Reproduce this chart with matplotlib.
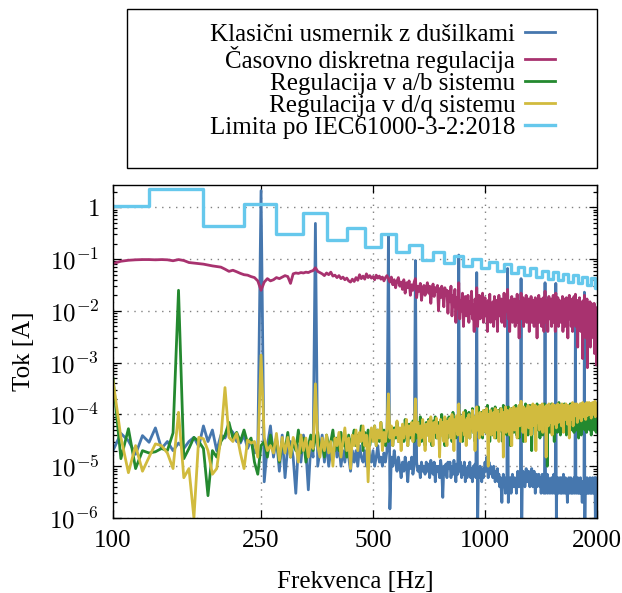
import numpy as np
import matplotlib.pyplot as plt
from matplotlib.patches import Rectangle
from matplotlib.ticker import FixedLocator, FixedFormatter, LogLocator, NullFormatter

plt.rcParams['font.family'] = ['Liberation Serif', 'DejaVu Serif']
plt.rcParams['mathtext.fontset'] = 'cm'

#%% podatki (5 Hz korak, 100 ... 2000 Hz)
frekvenca = np.arange(100, 2001, 5)

tok_klasicni = [
    2.0e-5, 4.3e-5, 3.1e-5, 1.7e-5, 3.9e-5, 2.9e-5, 5.5e-5, 2.2e-5, 3.0e-5, 2.0e-5,
    2.8e-5, 2.2e-5, 3.0e-5, 3.6e-5, 2.4e-5, 6.0e-5, 3.0e-5, 5.0e-5, 2.0e-5, 4.0e-5,
    3.5e-5, 5.5e-5, 4.5e-5, 3.0e-5, 2.8e-5, 4.0e-5, 2.2e-5, 3.2e-5, 1.8e-5, 2.0e-5,
    2.1, 5.0e-6, 2.5e-5, 6.0e-5, 1.5e-5, 3.5e-5, 8.0e-6, 4.0e-5, 6.0e-6, 2.5e-5,
    3.0e-5, 1.5e-5, 3.0e-6, 2.5e-5, 1.2e-5, 4.0e-5, 2.0e-5, 3.5e-6, 2.5e-5, 1.5e-5,
    0.49, 1.0e-5, 2.0e-5, 4.0e-5, 1.2e-5, 3.0e-5, 1.0e-5, 2.0e-5, 1.5e-5, 3.5e-5,
    1.5e-5, 2.5e-5, 1.0e-5, 2.0e-5, 1.2e-5, 3.0e-5, 1.5e-5, 8.0e-6, 2.0e-5, 1.2e-5,
    2.0e-5, 1.0e-5, 2.5e-5, 1.5e-5, 1.2e-5, 2.0e-5, 1.0e-5, 3.0e-5, 1.5e-5, 1.2e-5,
    2.0e-5, 1.0e-5, 1.5e-5, 2.5e-5, 1.2e-5, 1.5e-5, 1.0e-5, 1.8e-5, 1.2e-5, 2.0e-5,
    0.28, 1.5e-6, 1.5e-5, 1.0e-5, 2.0e-5, 1.2e-5, 8.0e-6, 1.5e-5, 1.0e-5, 6.0e-6,
    1.2e-5, 8.0e-6, 1.5e-5, 1.0e-5, 5.0e-6, 1.2e-5, 9.0e-6, 1.5e-5, 7.0e-6, 1.0e-5,
    0.094, 1.2e-5, 8.0e-6, 1.0e-5, 6.0e-6, 1.2e-5, 8.0e-6, 1.0e-5, 7.0e-6, 1.2e-5,
    8.0e-6, 1.1e-5, 6.0e-6, 1.3e-5, 9.0e-6, 7.0e-6, 1.2e-5, 5.0e-6, 1.0e-5, 8.0e-6,
    1.0e-5, 6.0e-6, 1.3e-5, 8.0e-6, 2.5e-6, 1.0e-5, 7.0e-6, 1.1e-5, 6.0e-6, 1.2e-5,
    9.0e-6, 1.2e-5, 6.0e-6, 1.0e-5, 7.0e-6, 1.3e-5, 8.0e-6, 5.0e-6, 1.1e-5, 7.0e-6,
    0.12, 8.0e-6, 1.2e-5, 6.0e-6, 1.0e-5, 7.0e-6, 1.2e-5, 5.0e-6, 9.0e-6, 6.0e-6,
    1.0e-5, 7.0e-6, 1.2e-5, 6.0e-6, 9.0e-6, 5.0e-6, 1.0e-5, 7.0e-6, 1.1e-5, 6.0e-6,
    0.055, 5.0e-7, 9.0e-6, 6.0e-6, 1.0e-5, 7.0e-6, 5.0e-6, 9.0e-6, 6.0e-6, 8.0e-6,
    1.2e-5, 8.0e-6, 1.5e-5, 1.0e-5, 6.0e-6, 1.2e-5, 8.0e-6, 1.0e-5, 7.0e-6, 9.0e-6,
    6.0e-6, 1.0e-5, 7.0e-6, 5.0e-6, 8.0e-6, 6.0e-6, 9.0e-6, 5.0e-6, 7.0e-6, 4.0e-6,
    6.0e-6, 4.0e-6, 2.0e-6, 5.0e-6, 7.0e-6, 4.0e-6, 6.0e-6, 3.0e-6, 5.0e-6, 4.0e-6,
    0.066, 2.0e-6, 5.0e-6, 4.0e-6, 6.0e-6, 3.0e-6, 5.0e-6, 7.0e-6, 4.0e-6, 5.0e-6,
    6.0e-6, 4.0e-6, 5.0e-6, 3.0e-6, 6.0e-6, 8.0e-6, 5.0e-6, 4.0e-6, 6.0e-6, 5.0e-6,
    0.042, 5.0e-7, 6.0e-6, 8.0e-6, 5.0e-6, 7.0e-6, 4.0e-6, 6.0e-6, 9.0e-6, 5.0e-6,
    7.0e-6, 5.0e-6, 8.0e-6, 6.0e-6, 4.0e-6, 7.0e-6, 5.0e-6, 9.0e-6, 6.0e-6, 4.0e-6,
    6.0e-6, 8.0e-6, 5.0e-6, 3.0e-6, 6.0e-6, 7.0e-6, 4.0e-6, 6.0e-6, 5.0e-6, 7.0e-6,
    5.0e-6, 4.0e-6, 6.0e-6, 3.0e-6, 5.0e-6, 7.0e-6, 4.0e-6, 6.0e-6, 3.0e-6, 5.0e-6,
    0.035, 3.0e-6, 5.0e-6, 4.0e-6, 7.0e-6, 3.0e-6, 6.0e-6, 4.0e-6, 5.0e-6, 3.0e-6,
    5.0e-6, 4.0e-6, 6.0e-6, 3.0e-6, 5.0e-6, 4.0e-6, 7.0e-6, 3.0e-6, 5.0e-6, 4.0e-6,
    0.034, 7.0e-7, 5.0e-6, 4.0e-6, 6.0e-6, 3.0e-6, 5.0e-6, 4.0e-6, 6.0e-6, 3.0e-6,
    4.0e-6, 6.0e-6, 3.0e-6, 5.0e-6, 4.0e-6, 7.0e-6, 3.0e-6, 5.0e-6, 4.0e-6, 6.0e-6,
    3.0e-6, 5.0e-6, 4.0e-6, 2.0e-6, 5.0e-6, 4.0e-6, 6.0e-6, 3.0e-6, 5.0e-6, 4.0e-6,
    6.0e-6, 3.0e-6, 5.0e-6, 4.0e-6, 3.0e-6, 5.0e-6, 4.0e-6, 6.0e-6, 3.0e-6, 5.0e-6,
    0.02, 4.0e-6, 3.0e-6, 5.0e-6, 4.0e-6, 6.0e-6, 3.0e-6, 4.0e-6, 5.0e-6, 3.0e-6,
    4.0e-6, 6.0e-6, 3.0e-6, 5.0e-6, 4.0e-6, 2.0e-6, 5.0e-6, 4.0e-6, 3.0e-6, 5.0e-6,
    0.023, 5.0e-7, 4.0e-6, 3.0e-6, 5.0e-6, 4.0e-6, 6.0e-6, 3.0e-6, 4.0e-6, 5.0e-6,
    3.0e-6, 5.0e-6, 4.0e-6, 6.0e-6, 3.0e-6, 4.0e-6, 5.0e-6, 3.0e-6, 4.0e-6, 6.0e-6,
    4.0e-6, 3.0e-6, 5.0e-6, 4.0e-6, 6.0e-6, 5.0e-6, 8.0e-7, 6.0e-6, 5.0e-6, 4.0e-6,
    5.0e-6]

tok_diskretna = [
    0.082, 0.091, 0.095, 0.097, 0.098, 0.098, 0.097, 0.098, 0.097, 0.093,
    0.098, 0.094, 0.086, 0.084, 0.082, 0.080, 0.077, 0.074, 0.072, 0.070,
    0.064, 0.058, 0.061, 0.057, 0.053, 0.050, 0.049, 0.046, 0.044, 0.038,
    0.025, 0.036, 0.042, 0.038, 0.040, 0.044, 0.042, 0.045, 0.048, 0.046,
    0.034, 0.052, 0.054, 0.053, 0.055, 0.054, 0.056, 0.055, 0.058, 0.060,
    0.068, 0.058, 0.055, 0.052, 0.048, 0.054, 0.050, 0.056, 0.047, 0.049,
    0.044, 0.048, 0.042, 0.045, 0.040, 0.043, 0.038, 0.036, 0.041, 0.037,
    0.044, 0.039, 0.050, 0.042, 0.047, 0.041, 0.052, 0.044, 0.048, 0.043,
    0.046, 0.040, 0.049, 0.043, 0.047, 0.041, 0.045, 0.038, 0.044, 0.048,
    0.042, 0.036, 0.045, 0.032, 0.040, 0.028, 0.038, 0.044, 0.030, 0.036,
    0.026, 0.040, 0.022, 0.035, 0.028, 0.038, 0.020, 0.032, 0.025, 0.036,
    0.042, 0.018, 0.030, 0.024, 0.034, 0.016, 0.026, 0.031, 0.020, 0.028,
    0.035, 0.022, 0.030, 0.014, 0.026, 0.033, 0.019, 0.028, 0.024, 0.031,
    0.010, 0.027, 0.018, 0.030, 0.022, 0.012, 0.028, 0.020, 0.025, 0.009,
    0.024, 0.015, 0.030, 0.008, 0.020, 0.012, 0.026, 0.006, 0.018, 0.011,
    0.035, 0.007, 0.016, 0.010, 0.022, 0.005, 0.014, 0.019, 0.008, 0.012,
    0.020, 0.006, 0.015, 0.009, 0.024, 0.007, 0.013, 0.004, 0.017, 0.010,
    0.028, 0.005, 0.012, 0.020, 0.007, 0.015, 0.009, 0.022, 0.006, 0.011,
    0.018, 0.008, 0.014, 0.004, 0.016, 0.010, 0.021, 0.006, 0.013, 0.009,
    0.015, 0.005, 0.019, 0.010, 0.007, 0.016, 0.004, 0.012, 0.020, 0.008,
    0.011, 0.017, 0.006, 0.013, 0.009, 0.022, 0.005, 0.014, 0.010, 0.018,
    0.026, 0.007, 0.012, 0.004, 0.016, 0.009, 0.019, 0.006, 0.013, 0.010,
    0.017, 0.005, 0.014, 0.008, 0.021, 0.006, 0.012, 0.003, 0.015, 0.009,
    0.022, 0.007, 0.013, 0.018, 0.005, 0.011, 0.016, 0.008, 0.020, 0.006,
    0.012, 0.009, 0.017, 0.004, 0.014, 0.010, 0.019, 0.006, 0.013, 0.008,
    0.016, 0.005, 0.011, 0.018, 0.007, 0.013, 0.003, 0.015, 0.009, 0.020,
    0.006, 0.012, 0.008, 0.017, 0.005, 0.014, 0.010, 0.018, 0.004, 0.011,
    0.024, 0.006, 0.013, 0.009, 0.016, 0.004, 0.012, 0.019, 0.007, 0.014,
    0.010, 0.017, 0.005, 0.013, 0.008, 0.020, 0.006, 0.011, 0.015, 0.004,
    0.022, 0.007, 0.014, 0.009, 0.018, 0.005, 0.012, 0.016, 0.008, 0.013,
    0.006, 0.015, 0.010, 0.019, 0.004, 0.012, 0.008, 0.017, 0.005, 0.014,
    0.011, 0.018, 0.006, 0.013, 0.003, 0.016, 0.009, 0.020, 0.007, 0.012,
    0.015, 0.005, 0.010, 0.017, 0.004, 0.013, 0.008, 0.019, 0.006, 0.011,
    0.021, 0.005, 0.012, 0.008, 0.016, 0.002, 0.011, 0.014, 0.006, 0.018,
    0.009, 0.013, 0.004, 0.015, 0.007, 0.012, 0.0012, 0.010, 0.016, 0.005,
    0.020, 0.006, 0.011, 0.003, 0.014, 0.008, 0.017, 0.0008, 0.009, 0.013,
    0.005, 0.012, 0.008, 0.015, 0.002, 0.010, 0.014, 0.004, 0.011, 0.007,
    0.013, 0.003, 0.009, 0.014, 0.0015, 0.008, 0.012, 0.004, 0.010, 0.0009,
    0.006]

tok_ab = [
    5.0e-4, 1.4e-5, 5.3e-5, 9.0e-6, 2.0e-5, 1.8e-5, 1.9e-5, 2.2e-5, 2.0e-5, 4.4e-5,
    0.025, 1.4e-5, 2.2e-5, 3.6e-5, 3.0e-5, 2.2e-5, 2.7e-6, 2.0e-5, 1.5e-5, 3.0e-5,
    4.0e-5, 7.0e-5, 3.5e-5, 4.5e-5, 3.0e-5, 5.0e-5, 2.8e-5, 3.5e-5, 1.2e-5, 7.0e-6,
    2.5e-5, 3.0e-5, 1.5e-5, 4.0e-5, 2.0e-5, 3.5e-5, 1.2e-5, 3.0e-5, 2.0e-5, 4.5e-5,
    1.5e-5, 3.0e-5, 2.0e-5, 5.0e-5, 1.8e-5, 3.5e-5, 1.2e-5, 2.5e-5, 4.0e-5, 2.0e-5,
    3.5e-5, 4.5e-5, 2.0e-5, 3.0e-5, 1.5e-5, 4.0e-5, 2.5e-5, 3.0e-5, 5.0e-5, 2.0e-5,
    3.5e-5, 2.0e-5, 4.5e-5, 2.5e-5, 3.0e-5, 1.5e-5, 4.0e-5, 2.5e-5, 3.5e-5, 5.0e-5,
    2.5e-5, 4.0e-5, 3.0e-5, 6.0e-5, 2.0e-5, 4.5e-5, 3.0e-5, 5.0e-5, 2.5e-5, 4.0e-5,
    3.5e-5, 6.0e-5, 2.5e-5, 5.0e-5, 3.0e-5, 7.0e-5, 3.5e-5, 5.0e-5, 2.5e-5, 4.5e-5,
    3.0e-5, 6.0e-5, 4.0e-5, 2.5e-5, 5.5e-5, 3.5e-5, 7.0e-5, 3.0e-5, 5.0e-5, 4.0e-5,
    6.0e-5, 3.0e-5, 8.0e-5, 4.0e-5, 2.5e-5, 6.5e-5, 3.5e-5, 5.0e-5, 7.5e-5, 3.0e-5,
    5.0e-5, 3.5e-5, 7.0e-5, 4.0e-5, 9.0e-5, 3.0e-5, 6.0e-5, 4.5e-5, 2.5e-5, 7.0e-5,
    4.0e-5, 8.0e-5, 3.5e-5, 6.0e-5, 2.5e-5, 7.5e-5, 4.5e-5, 9.0e-5, 3.5e-5, 5.5e-5,
    7.0e-5, 3.0e-5, 6.0e-5, 1.0e-4, 4.0e-5, 7.0e-5, 2.5e-5, 8.0e-5, 5.0e-5, 3.5e-5,
    9.0e-5, 4.5e-5, 7.0e-5, 3.0e-5, 1.1e-4, 5.0e-5, 6.5e-5, 3.5e-5, 8.5e-5, 4.5e-5,
    6.0e-5, 1.0e-4, 4.0e-5, 7.5e-5, 3.0e-5, 9.0e-5, 5.0e-5, 1.2e-4, 4.0e-5, 7.0e-5,
    5.0e-5, 1.1e-4, 3.5e-5, 8.0e-5, 6.0e-5, 1.3e-4, 4.5e-5, 9.0e-5, 3.0e-5, 7.0e-5,
    1.0e-4, 5.0e-5, 1.4e-4, 4.0e-5, 8.0e-5, 6.0e-5, 1.1e-4, 3.5e-5, 9.0e-5, 5.5e-5,
    1.2e-4, 4.5e-5, 8.0e-5, 1.5e-4, 5.0e-5, 1.0e-4, 3.0e-5, 9.0e-5, 6.0e-5, 1.3e-4,
    4.0e-5, 1.1e-4, 7.0e-5, 1.4e-4, 3.5e-5, 9.0e-5, 5.5e-5, 1.2e-4, 4.5e-5, 8.5e-5,
    1.3e-4, 6.0e-5, 1.0e-4, 3.0e-5, 1.5e-4, 5.0e-5, 9.0e-5, 7.0e-5, 1.2e-4, 4.0e-5,
    9.0e-5, 1.4e-4, 5.0e-5, 1.1e-4, 2.5e-5, 8.0e-5, 1.3e-4, 6.0e-5, 1.0e-4, 4.5e-5,
    1.2e-4, 7.0e-5, 1.5e-4, 4.0e-5, 9.5e-5, 6.0e-5, 1.3e-4, 3.5e-5, 1.1e-4, 8.0e-5,
    5.0e-5, 1.4e-4, 7.0e-5, 1.0e-4, 3.0e-5, 1.2e-4, 8.0e-5, 1.6e-4, 5.0e-5, 9.0e-5,
    1.1e-4, 4.0e-5, 1.3e-4, 7.0e-5, 1.5e-4, 5.5e-5, 9.0e-5, 2.0e-5, 1.2e-4, 8.0e-5,
    1.4e-4, 6.0e-5, 1.0e-4, 4.0e-5, 1.3e-4, 8.0e-5, 1.6e-4, 5.0e-5, 1.1e-4, 7.0e-5,
    1.2e-4, 3.5e-5, 9.0e-5, 1.5e-4, 6.0e-5, 1.1e-4, 4.0e-5, 1.3e-4, 8.0e-5, 1.6e-4,
    5.0e-5, 1.0e-4, 7.0e-5, 1.4e-4, 1.0e-5, 9.0e-5, 1.2e-4, 6.0e-5, 1.5e-4, 4.5e-5,
    1.1e-4, 7.5e-5, 1.6e-4, 5.0e-5, 1.2e-4, 8.0e-5, 1.4e-4, 3.0e-5, 1.0e-4, 6.5e-5,
    1.5e-4, 8.0e-5, 1.1e-4, 4.5e-5, 1.3e-4, 9.0e-5, 1.7e-4, 6.0e-5, 1.2e-4, 4.0e-5,
    1.0e-4, 1.5e-4, 7.0e-5, 1.2e-4, 5.0e-5, 1.4e-4, 9.0e-5, 1.6e-4, 6.0e-5, 1.1e-4,
    1.3e-4, 4.0e-5, 1.0e-4, 1.5e-4, 7.0e-5, 1.2e-4, 5.5e-5, 1.4e-4, 8.0e-5, 1.6e-4,
    6.0e-5, 1.1e-4, 1.4e-4, 5.0e-5, 1.2e-4, 8.5e-5, 1.6e-4, 4.5e-5, 1.0e-4, 1.3e-4,
    7.0e-5, 1.5e-4, 5.0e-5, 1.1e-4, 1.4e-4, 6.5e-5, 1.2e-4, 3.5e-5, 1.5e-4, 9.0e-5,
    1.3e-4, 6.0e-5, 1.6e-4, 4.0e-5, 1.1e-4, 8.0e-5, 1.4e-4, 5.5e-5, 1.2e-4, 1.0e-4,
    1.5e-4, 5.0e-5, 1.2e-4, 8.5e-5, 1.6e-4, 4.5e-5, 1.3e-4, 7.0e-5, 1.4e-4, 6.0e-5,
    1.1e-4, 1.6e-4, 5.0e-5, 1.3e-4, 8.0e-5, 1.5e-4, 4.0e-5, 1.2e-4, 9.0e-5, 1.4e-4,
    6.0e-5, 1.3e-4, 1.0e-4, 1.6e-4, 5.0e-5, 1.2e-4, 8.0e-5, 1.5e-4, 4.5e-5, 1.1e-4,
    1.4e-4]

tok_dq = [
    4.5e-4, 3.6e-5, 7.5e-6, 2.5e-5, 8.0e-6, 1.5e-5, 2.7e-5, 2.5e-5, 1.8e-5, 9.0e-6,
    1.1e-4, 6.0e-6, 9.0e-6, 1.0e-6, 3.6e-5, 3.4e-5, 2.0e-5, 7.0e-6, 9.0e-6, 3.6e-5,
    3.3e-4, 3.6e-5, 3.0e-5, 4.3e-5, 1.8e-5, 9.0e-6, 3.2e-5, 2.8e-5, 3.0e-5, 1.5e-5,
    1.4e-3, 3.6e-5, 2.0e-5, 2.5e-5, 1.8e-5, 4.3e-5, 1.3e-5, 3.6e-5, 1.8e-5, 3.6e-5,
    1.5e-5, 3.6e-5, 2.5e-5, 1.2e-5, 4.0e-5, 2.0e-5, 3.5e-5, 1.5e-5, 3.0e-5, 2.2e-5,
    3.9e-4, 2.5e-5, 1.5e-5, 3.5e-5, 2.0e-5, 4.0e-5, 1.8e-5, 3.0e-5, 1.0e-5, 3.5e-5,
    2.5e-5, 4.5e-5, 1.5e-5, 3.0e-5, 5.5e-5, 2.0e-5, 3.5e-5, 9.0e-6, 4.0e-5, 2.5e-5,
    5.0e-5, 2.0e-5, 4.5e-5, 3.0e-5, 6.0e-5, 2.5e-5, 4.0e-5, 5.0e-6, 3.5e-5, 5.5e-5,
    3.0e-5, 6.0e-5, 2.5e-5, 5.0e-5, 3.5e-5, 7.0e-5, 2.0e-5, 4.5e-5, 3.0e-5, 5.5e-5,
    2.5e-4, 3.5e-5, 6.0e-5, 2.5e-5, 5.0e-5, 4.0e-5, 7.5e-5, 3.0e-5, 5.5e-5, 2.0e-5,
    6.5e-5, 3.5e-5, 5.0e-5, 8.0e-5, 2.5e-5, 6.0e-5, 4.0e-5, 7.0e-5, 3.0e-5, 5.5e-5,
    2.0e-4, 4.5e-5, 7.0e-5, 2.5e-5, 6.0e-5, 3.5e-5, 8.0e-5, 5.0e-5, 2.0e-5, 6.5e-5,
    4.0e-5, 7.5e-5, 3.0e-5, 9.0e-5, 5.0e-5, 2.5e-5, 7.0e-5, 4.5e-5, 8.5e-5, 3.5e-5,
    6.0e-5, 1.5e-5, 8.0e-5, 4.0e-5, 7.0e-5, 3.0e-5, 9.0e-5, 5.5e-5, 2.5e-5, 7.5e-5,
    4.5e-5, 8.5e-5, 3.5e-5, 1.0e-4, 6.0e-5, 2.0e-5, 8.0e-5, 5.0e-5, 9.5e-5, 4.0e-5,
    1.6e-4, 6.5e-5, 3.0e-5, 9.0e-5, 5.0e-5, 1.1e-4, 4.0e-5, 7.5e-5, 2.5e-5, 8.5e-5,
    6.0e-5, 1.0e-4, 3.5e-5, 8.0e-5, 5.5e-5, 1.2e-4, 4.5e-5, 9.0e-5, 2.0e-5, 7.0e-5,
    1.4e-4, 5.0e-5, 9.0e-5, 3.5e-5, 1.1e-4, 6.5e-5, 8.5e-5, 4.0e-5, 1.2e-4, 6.0e-5,
    9.0e-5, 4.5e-5, 1.3e-4, 7.0e-5, 1.0e-5, 1.0e-4, 5.5e-5, 1.2e-4, 4.0e-5, 9.5e-5,
    6.5e-5, 1.1e-4, 3.5e-5, 1.3e-4, 7.5e-5, 5.0e-5, 1.2e-4, 8.5e-5, 3.0e-5, 1.0e-4,
    7.0e-5, 1.3e-4, 5.0e-5, 9.5e-5, 1.5e-5, 1.1e-4, 6.5e-5, 1.4e-4, 4.5e-5, 9.0e-5,
    1.2e-4, 6.0e-5, 1.0e-4, 4.0e-5, 1.3e-4, 7.5e-5, 2.5e-5, 1.1e-4, 8.0e-5, 1.4e-4,
    5.0e-5, 1.0e-4, 7.0e-5, 1.3e-4, 3.5e-5, 1.2e-4, 8.5e-5, 1.5e-4, 6.0e-5, 1.0e-4,
    1.8e-4, 6.5e-5, 1.2e-4, 4.5e-5, 1.4e-4, 9.0e-5, 1.1e-4, 3.0e-5, 1.3e-4, 7.5e-5,
    1.0e-4, 1.5e-4, 5.5e-5, 1.2e-4, 8.0e-5, 1.4e-4, 4.0e-5, 1.1e-4, 9.0e-5, 1.6e-4,
    6.0e-5, 1.3e-4, 8.5e-5, 1.5e-4, 2.0e-5, 1.1e-4, 7.0e-5, 1.4e-4, 9.5e-5, 1.2e-4,
    5.0e-5, 1.5e-4, 9.0e-5, 1.2e-4, 6.5e-5, 1.6e-4, 4.5e-5, 1.3e-4, 1.0e-4, 1.4e-4,
    8.0e-5, 1.2e-4, 1.5e-5, 1.5e-4, 9.5e-5, 1.3e-4, 6.0e-5, 1.6e-4, 8.5e-5, 1.1e-4,
    1.4e-4, 7.0e-5, 1.2e-4, 4.0e-5, 1.6e-4, 9.0e-5, 1.3e-4, 6.5e-5, 1.5e-4, 1.0e-4,
    1.2e-4, 5.5e-5, 1.4e-4, 9.0e-5, 1.6e-4, 7.0e-5, 1.3e-4, 1.0e-4, 1.5e-4, 8.0e-5,
    1.3e-4, 6.0e-5, 1.6e-4, 9.5e-5, 1.2e-4, 4.5e-5, 1.5e-4, 1.1e-4, 1.4e-4, 8.0e-5,
    1.6e-4, 1.0e-4, 1.3e-4, 6.5e-5, 1.5e-4, 9.0e-5, 1.2e-4, 3.5e-5, 1.4e-4, 1.1e-4,
    1.5e-4, 8.0e-5, 1.3e-4, 1.0e-4, 1.7e-4, 6.0e-5, 1.4e-4, 9.0e-5, 1.2e-4, 1.6e-4,
    9.5e-5, 1.4e-4, 1.1e-4, 1.6e-4, 7.0e-5, 1.3e-4, 1.0e-4, 1.5e-4, 1.2e-4, 8.5e-5,
    1.6e-4, 1.1e-4, 1.4e-4, 7.5e-5, 1.5e-4, 1.2e-4, 1.7e-4, 9.0e-5, 1.3e-4, 1.0e-4,
    1.5e-4, 1.1e-4, 1.6e-4, 8.0e-5, 1.4e-4, 1.2e-4, 1.7e-4, 9.5e-5, 1.5e-4, 1.1e-4,
    1.4e-4, 1.7e-4, 1.0e-4, 1.5e-4, 1.2e-4, 1.6e-4, 8.5e-5, 1.4e-4, 1.1e-4, 1.7e-4,
    1.3e-4, 1.5e-4, 1.0e-4, 1.6e-4, 1.2e-4, 1.8e-4, 9.0e-5, 1.5e-4, 1.3e-4, 1.6e-4,
    1.4e-4]

# limita po harmonikih 2 ... 40 (odčitano z grafa)
frekvenca_limita = np.arange(100, 2001, 50)
tok_limita = [1.08, 2.30, 0.43, 1.14, 0.30, 0.77, 0.23, 0.40, 0.17, 0.31,
              0.14, 0.19, 0.098, 0.135, 0.085, 0.115, 0.075, 0.10, 0.066, 0.088,
              0.059, 0.080, 0.054, 0.072, 0.050, 0.066, 0.046, 0.060, 0.042, 0.056,
              0.039, 0.052, 0.036, 0.049, 0.034, 0.046, 0.031, 0.044, 0.028]

oznake = ['Klasični usmernik z dušilkami', 'Časovno diskretna regulacija',
          'Regulacija v a/b sistemu', 'Regulacija v d/q sistemu',
          'Limita po IEC61000-3-2:2018']
barve = ['#4677ae', '#a8326f', '#24892f', '#d1bb3e', '#66c8ec']

x_ticks = [100, 250, 500, 1000, 2000]
y_ticks = [1e-6, 1e-5, 1e-4, 1e-3, 1e-2, 1e-1, 1]
y_labels = ['$10^{-6}$', '$10^{-5}$', '$10^{-4}$', '$10^{-3}$',
            '$10^{-2}$', '$10^{-1}$', '$1$']

#%% graf
fs = 18
fig = plt.figure(figsize=(6.22, 5.93), dpi=100)
ax = fig.add_axes([0.1817, 0.1265, 0.7781, 0.5615])

lw = 2.0
ax.plot(frekvenca, tok_klasicni, color=barve[0], lw=lw, label=oznake[0])
ax.plot(frekvenca, tok_diskretna, color=barve[1], lw=lw, label=oznake[1])
ax.plot(frekvenca, tok_ab, color=barve[2], lw=lw, label=oznake[2])
ax.plot(frekvenca, tok_dq, color=barve[3], lw=lw, label=oznake[3])
ax.step(frekvenca_limita, tok_limita, where='mid', color=barve[4], lw=2.4,
        label=oznake[4])

ax.set_xscale('log')
ax.set_yscale('log')
ax.set_xlim(100, 2000)
ax.set_ylim(1e-6, 2.7)

ax.xaxis.set_major_locator(FixedLocator(x_ticks))
ax.xaxis.set_major_formatter(FixedFormatter([str(t) for t in x_ticks]))
ax.xaxis.set_minor_locator(FixedLocator([]))
ax.yaxis.set_major_locator(FixedLocator(y_ticks))
ax.yaxis.set_major_formatter(FixedFormatter(y_labels))
ax.yaxis.set_minor_locator(LogLocator(base=10, subs=np.arange(2, 10)))
ax.yaxis.set_minor_formatter(NullFormatter())

ax.tick_params(which='both', direction='in', top=True, right=True,
               labelsize=fs, width=0.9)
ax.tick_params(which='major', length=6)
ax.tick_params(axis='x', which='major', pad=9)
ax.tick_params(axis='y', which='major', pad=10)
ax.tick_params(which='minor', length=3)
for s in ax.spines.values():
    s.set_linewidth(1.0)

ax.grid(True, which='major', linestyle=(0, (1, 4)), color='gray', lw=1.0)

ax.set_xlabel('Frekvenca [Hz]', fontsize=fs, labelpad=13)
ax.set_ylabel('Tok [A]', fontsize=fs, labelpad=10)

# legenda nad grafom
fig.patches.append(Rectangle((127 / 622, 1 - 168 / 593), 470 / 622, 159 / 593,
                             transform=fig.transFigure, fill=False,
                             edgecolor='black', lw=1.0))
fig.legend(loc='upper right', bbox_to_anchor=(0.925, 0.994), frameon=False,
           markerfirst=False, fontsize=fs, handlelength=1.2, handletextpad=0.4,
           labelspacing=-0.02, borderpad=0.3)

plt.savefig('out.png', dpi=100)
